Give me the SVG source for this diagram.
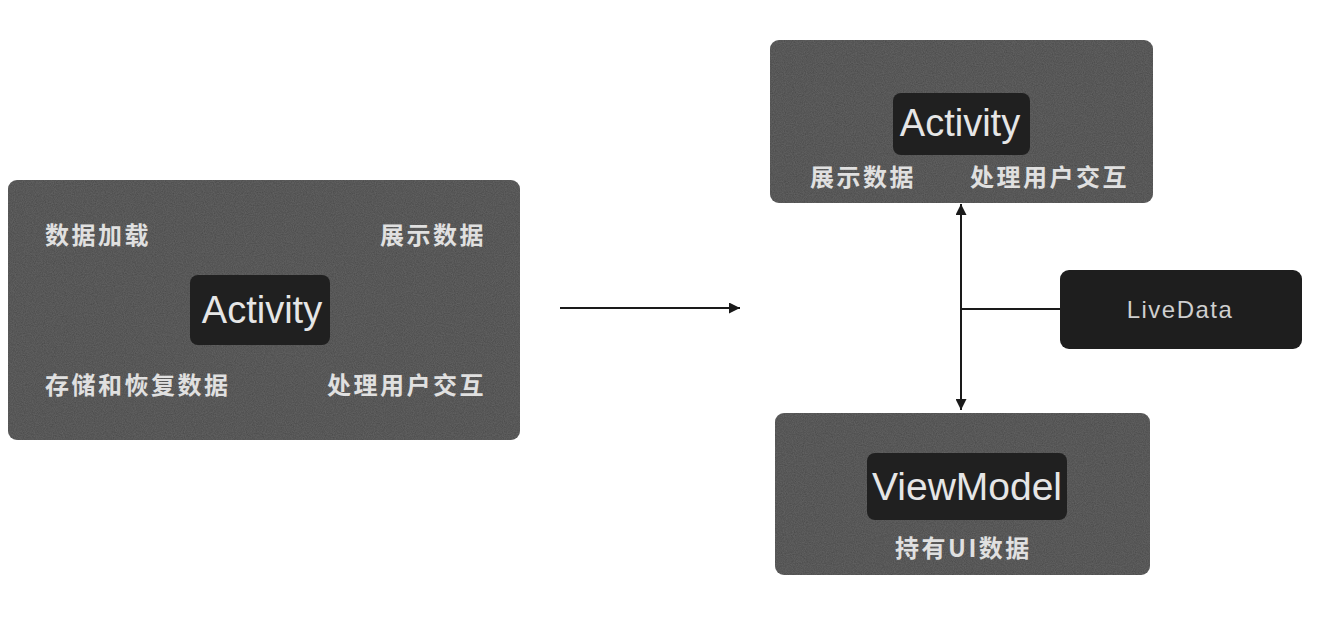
<svg xmlns="http://www.w3.org/2000/svg" width="1342" height="622" viewBox="0 0 1342 622">
  <defs>
    <marker id="arrow" viewBox="0 0 10 10" refX="10" refY="5" markerWidth="11" markerHeight="11" markerUnits="userSpaceOnUse" orient="auto-start-reverse">
      <path d="M0,0 L10,5 L0,10 z" fill="#1a1a1a"/>
    </marker>
    <filter id="grain" x="0" y="0" width="100%" height="100%">
      <feTurbulence type="fractalNoise" baseFrequency="0.9" numOctaves="2" seed="3" result="n"/>
      <feColorMatrix in="n" type="matrix" values="0 0 0 0 0.25  0 0 0 0 0.25  0 0 0 0 0.25  0 0 0 0.35 0" result="g"/>
      <feComposite in="g" in2="SourceGraphic" operator="in" result="gc"/>
      <feMerge><feMergeNode in="SourceGraphic"/><feMergeNode in="gc"/></feMerge>
    </filter>
  </defs>
  <style>
    .outer { fill: #4a4a4a; filter: url(#grain); }
    .inner { fill: #202020; }
    .title { font-family: "Liberation Sans", "Noto Sans", sans-serif; fill: #e6e6e6; text-anchor: middle; }
    .lbl { font-family: "Noto Sans CJK SC", sans-serif; fill: #e0e0e0; font-size: 24px; font-weight: bold; letter-spacing: 2.5px; }
    .end { text-anchor: end; }
    .conn { stroke: #1a1a1a; stroke-width: 2; fill: none; }
  </style>
  <rect width="1342" height="622" fill="#ffffff"/>

  <g id="node-left-activity">
    <rect class="outer" x="8" y="180" width="512" height="260" rx="9"/>
    <rect class="inner" x="190" y="275" width="140" height="70" rx="8"/>
    <text class="title" x="262" y="323" font-size="38">Activity</text>
    <text class="lbl" x="45" y="244">数据加载</text>
    <text class="lbl end" x="486" y="244">展示数据</text>
    <text class="lbl" x="45" y="394">存储和恢复数据</text>
    <text class="lbl end" x="486" y="394">处理用户交互</text>
  </g>

  <g id="node-top-activity">
    <rect class="outer" x="770" y="40" width="383" height="163" rx="9"/>
    <rect class="inner" x="893" y="93" width="137" height="62" rx="8"/>
    <text class="title" x="960" y="136" font-size="38">Activity</text>
    <text class="lbl" x="810" y="186">展示数据</text>
    <text class="lbl end" x="1129" y="186">处理用户交互</text>
  </g>

  <g id="node-viewmodel">
    <rect class="outer" x="775" y="413" width="375" height="162" rx="9"/>
    <rect class="inner" x="867" y="453" width="200" height="67" rx="8"/>
    <text class="title" x="967" y="500" font-size="39">ViewModel</text>
    <text class="lbl" x="895" y="557">持有UI数据</text>
  </g>

  <g id="node-livedata">
    <rect x="1060" y="270" width="242" height="79" rx="9" fill="#1e1e1e"/>
    <text class="title" x="1180" y="318" font-size="24" style="fill:#cfcfcf; letter-spacing:1.5px">LiveData</text>
  </g>

  <g id="connectors">
    <line class="conn" x1="560" y1="308" x2="740" y2="308" marker-end="url(#arrow)"/>
    <line class="conn" x1="961" y1="204" x2="961" y2="410" marker-start="url(#arrow)" marker-end="url(#arrow)"/>
    <line class="conn" x1="961" y1="309" x2="1060" y2="309"/>
  </g>
</svg>
